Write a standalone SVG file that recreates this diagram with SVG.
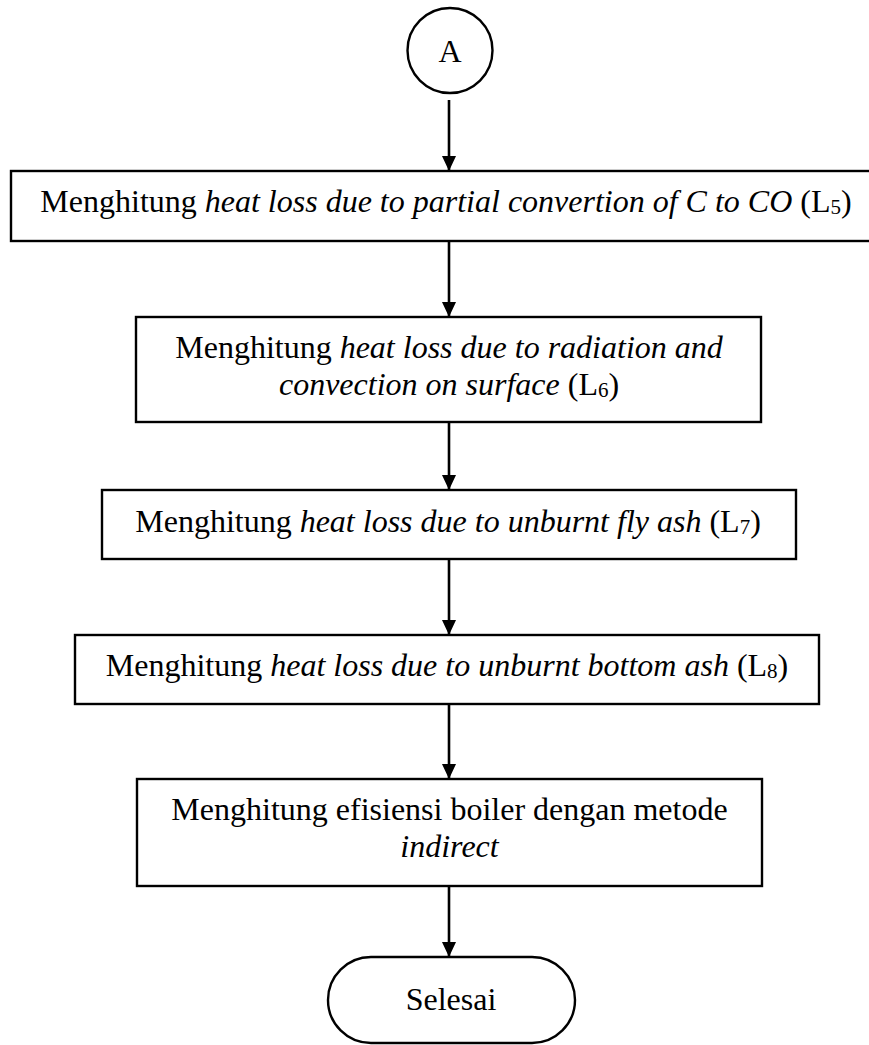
<svg xmlns="http://www.w3.org/2000/svg" width="869" height="1045" viewBox="0 0 869 1045">
<style>
.box{fill:#fff;stroke:#000;stroke-width:2.4}
.t{font-family:"Liberation Serif","Times New Roman",serif;font-size:32px;fill:#000;text-anchor:middle}
.i{font-style:italic}
.sub{font-size:21px}
.c{stroke:#000;stroke-width:2.6;fill:none;marker-end:url(#ah)}
</style>
<defs>
<marker id="ah" markerUnits="userSpaceOnUse" markerWidth="15" markerHeight="14" refX="15" refY="7" orient="auto">
<path d="M0,0 L15,7 L0,14 z" fill="#000"/>
</marker>
</defs>
<rect width="869" height="1045" fill="#fff"/>
<g id="connectors">
<line class="c" x1="449" y1="100" x2="449" y2="171"/>
<line class="c" x1="449" y1="242" x2="449" y2="317"/>
<line class="c" x1="449" y1="422" x2="449" y2="490"/>
<line class="c" x1="449" y1="559" x2="449" y2="635"/>
<line class="c" x1="449" y1="704" x2="449" y2="779"/>
<line class="c" x1="449" y1="886" x2="449" y2="957"/>
</g>
<g id="nodeA">
<ellipse class="box" cx="450" cy="50.5" rx="42.5" ry="42.5"/>
<text class="t" x="450" y="62">A</text>
</g>
<g id="nodeL5">
<rect class="box" x="11" y="171" width="860" height="70"/>
<text class="t" x="446" y="212">Menghitung <tspan class="i">heat loss due to partial convertion of C to CO</tspan> (L<tspan class="sub" dy="2">5</tspan><tspan dy="-2">)</tspan></text>
</g>
<g id="nodeL6">
<rect class="box" x="136" y="317" width="625" height="105"/>
<text class="t" x="449" y="358">Menghitung <tspan class="i">heat loss due to radiation and</tspan></text>
<text class="t" x="449" y="395"><tspan class="i">convection on surface</tspan> (L<tspan class="sub" dy="2">6</tspan><tspan dy="-2">)</tspan></text>
</g>
<g id="nodeL7">
<rect class="box" x="102" y="490" width="694" height="69"/>
<text class="t" x="448" y="532">Menghitung <tspan class="i">heat loss due to unburnt fly ash</tspan> (L<tspan class="sub" dy="2">7</tspan><tspan dy="-2">)</tspan></text>
</g>
<g id="nodeL8">
<rect class="box" x="75" y="635" width="744" height="69"/>
<text class="t" x="447" y="676">Menghitung <tspan class="i">heat loss due to unburnt bottom ash</tspan> (L<tspan class="sub" dy="2">8</tspan><tspan dy="-2">)</tspan></text>
</g>
<g id="nodeEff">
<rect class="box" x="137" y="779" width="625" height="107"/>
<text class="t" x="449.5" y="820">Menghitung efisiensi boiler dengan metode</text>
<text class="t i" x="449.5" y="857">indirect</text>
</g>
<g id="nodeEnd">
<rect class="box" x="328" y="957" width="247" height="86" rx="43" ry="43"/>
<text class="t" x="451" y="1010">Selesai</text>
</g>
</svg>
